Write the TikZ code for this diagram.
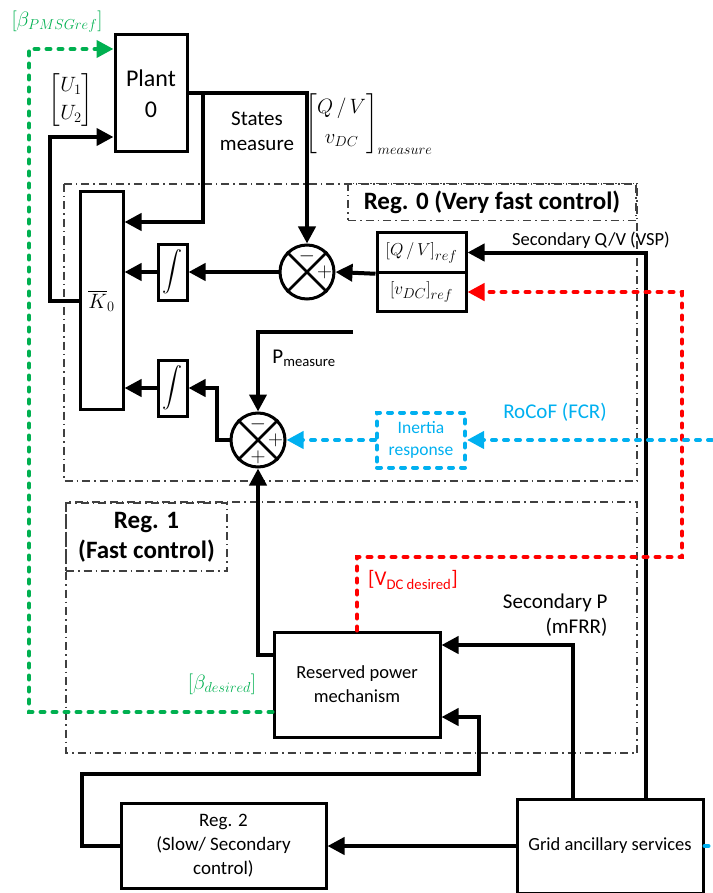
\documentclass[tikz,border=0pt]{standalone}
\usepackage{amsmath, amssymb}
\usepackage{fontspec}
\setmainfont{Carlito}
\usetikzlibrary{arrows.meta}

\definecolor{betagreen}{RGB}{0,176,80}
\definecolor{vdcred}{RGB}{255,0,0}
\definecolor{rocofblue}{RGB}{0,176,240}

\begin{document}
\begin{tikzpicture}[x=1pt, y=-1pt,
    blk/.style={draw, line width=3pt, align=center, inner sep=0pt},
    wire/.style={line width=4pt},
    arr/.style={wire, -{Triangle[length=17pt,width=17pt]}},
    sumj/.style={circle, draw, line width=3pt, minimum size=54pt, inner sep=0pt},
    region/.style={line width=1.3pt, black!75, dash pattern=on 8pt off 4pt on 1.5pt off 4pt},
    cdash/.style={line width=4pt, line cap=round, dash pattern=on 4pt off 8pt},
    ctip/.style={-{Triangle[length=17pt,width=17pt]}},
    txt/.style={font=\fontsize{21}{25}\selectfont, align=center},
    sgn/.style={font=\fontsize{20}{20}\selectfont}
]
    \useasboundingbox (0,0) rectangle (712,893);

    % Regulation regions
    \draw[region] (64,184) rectangle (637,481);
    \draw[region] (66,502) rectangle (637,753);
    \node[draw, region, text=black, minimum width=288, minimum height=37, font=\fontsize{25}{28}\selectfont\bfseries] (reg0lbl) at (492,202) {Reg. 0 (Very fast control)};
    \node[draw, region, text=black, minimum width=161, minimum height=68, align=center, font=\fontsize{25}{30}\selectfont\bfseries] (reg1lbl) at (146.5,537) {Reg. 1\\(Fast control)};

    % Blocks
    \node[blk, minimum width=72, minimum height=117, font=\fontsize{24}{31}\selectfont] (plant) at (151,93.5) {Plant\\0};
    \node[blk, minimum width=43, minimum height=217, font=\fontsize{22}{24}\selectfont] (K0) at (101.5,300.5) {$\overline{K}_0$};
    \node[blk, minimum width=29, minimum height=56, font=\fontsize{20}{22}\selectfont] (int1) at (172.5,272) {$\displaystyle\int$};
    \node[blk, minimum width=29, minimum height=56, font=\fontsize{20}{22}\selectfont] (int2) at (172.5,388) {$\displaystyle\int$};
    \node[blk, minimum width=89, minimum height=39.5, font=\fontsize{19}{22}\selectfont] (qvref) at (421.5,252.5) {$\left[Q\,/\,V\right]_{ref}$};
    \node[blk, minimum width=89, minimum height=39.5, font=\fontsize{19}{22}\selectfont] (vdcref) at (421.5,292) {$\left[v_{DC}\right]_{ref}$};
    \node[blk, minimum width=166, minimum height=105, align=center, font=\fontsize{18.5}{24}\selectfont] (reserved) at (357,684.5) {Reserved power\\mechanism};
    \node[blk, minimum width=205, minimum height=85, align=center, font=\fontsize{19}{24}\selectfont] (reg2) at (223.5,846) {Reg. 2\\(Slow/ Secondary\\control)};
    \node[blk, minimum width=186, minimum height=94, align=center, font=\fontsize{18.5}{22}\selectfont] (grid) at (610,846) {Grid ancillary services};
    \node[draw=rocofblue, cdash, minimum width=88, minimum height=55, text=rocofblue, align=center, font=\fontsize{17.5}{22}\selectfont] (inertia) at (421,440) {Inertia\\response};

    % Summing junctions
    \node[sumj] (sum1) at (307,272) {};
    \draw[line width=2.5pt] (sum1.north west) -- (sum1.south east) (sum1.north east) -- (sum1.south west);
    \node[sgn] at ([yshift=-13pt]sum1.north) {$-$};
    \node[sgn] at ([xshift=-11pt]sum1.east) {$+$};
    \node[sumj] (sum2) at (258,440) {};
    \draw[line width=2.5pt] (sum2.north west) -- (sum2.south east) (sum2.north east) -- (sum2.south west);
    \node[sgn] at ([yshift=-13pt]sum2.north) {$-$};
    \node[sgn] at ([xshift=-11pt]sum2.east) {$+$};
    \node[sgn] at ([yshift=11pt]sum2.south) {$+$};

    % Labels
    \node[text=betagreen, font=\fontsize{19.5}{22}\selectfont] (betaref) at (57,22) {$\left[\beta_{PMSGref}\right]$};
    \node[font=\fontsize{22}{26}\selectfont] (ulbl) at (71,100) {$\begin{bmatrix} U_1\\[2pt] U_2\end{bmatrix}$};
    \node[txt] (stlbl) at (257,131) {States\\measure};
    \node[font=\fontsize{20}{24}\selectfont] (measlbl) at (369,124) {$\begin{bmatrix} Q\,/\,V\\[6pt] v_{DC}\end{bmatrix}_{measure}$};
    \node[txt, font=\fontsize{18.5}{22}\selectfont] (secqv) at (591,240) {Secondary Q/V (VSP)};
    \node[txt] (pmeas) at (304,358) {P\textsubscript{measure}};
    \node[txt, text=rocofblue] (rocof) at (555,412) {RoCoF (FCR)};
    \node[txt, text=vdcred] (vdcdes) at (413,580) {[V\textsubscript{DC desired}]};
    \node[txt, align=right, anchor=east] (secp) at (611,615) {Secondary P\\(mFRR)};
    \node[text=betagreen, font=\fontsize{21}{24}\selectfont] (betades) at (222,684) {$\left[\beta_{desired}\right]$};

    % Free ends
    \coordinate (stap) at (203,93.5);
    \coordinate (ptap) at (353,332);
    \coordinate (rocofin) at (712,440);

    % Black connectors
    \draw[arr] (K0.west) -| (50,137) -- (plant.west |- 0,137);
    \draw[arr] (plant.east) -| (sum1.north);
    \draw[arr] (stap) |- (K0.east |- 0,222);
    \draw[arr] (sum1.west) -- (int1.east);
    \draw[arr] (int1.west) -- (int1.west -| K0.east);
    \draw[arr] (qvref.south west) -- (sum1.east);
    \draw[arr] (grid.north -| 646,0) |- (qvref.east);
    \draw[arr] (ptap) -| (sum2.north);
    \draw[arr] (sum2.west) -| (217,388) -- (int2.east);
    \draw[arr] (int2.west) -- (int2.west -| K0.east);
    \draw[arr] (reserved.west |- 0,655) -| (sum2.south);
    \draw[arr] (grid.north -| 573,0) |- (reserved.east |- 0,645);
    \draw[arr] (reg2.west) -| (82,774) -| (479,717) -- (reserved.east |- 0,717);
    \draw[arr] (grid.west) -- (reg2.east);

    % Coloured references
    \draw[cdash, betagreen, ctip] (reserved.west |- 0,712) -| (29,49) -- (plant.west |- 0,49);
    \draw[cdash, vdcred, ctip] (reserved.north) |- (682,557) |- (vdcref.east);
    \draw[cdash, rocofblue, ctip] (rocofin) -- (inertia.east);
    \draw[cdash, rocofblue, ctip] (inertia.west) -- (sum2.east);
    \draw[cdash, rocofblue] (grid.east) -- ++(12,0);
\end{tikzpicture}
\end{document}
